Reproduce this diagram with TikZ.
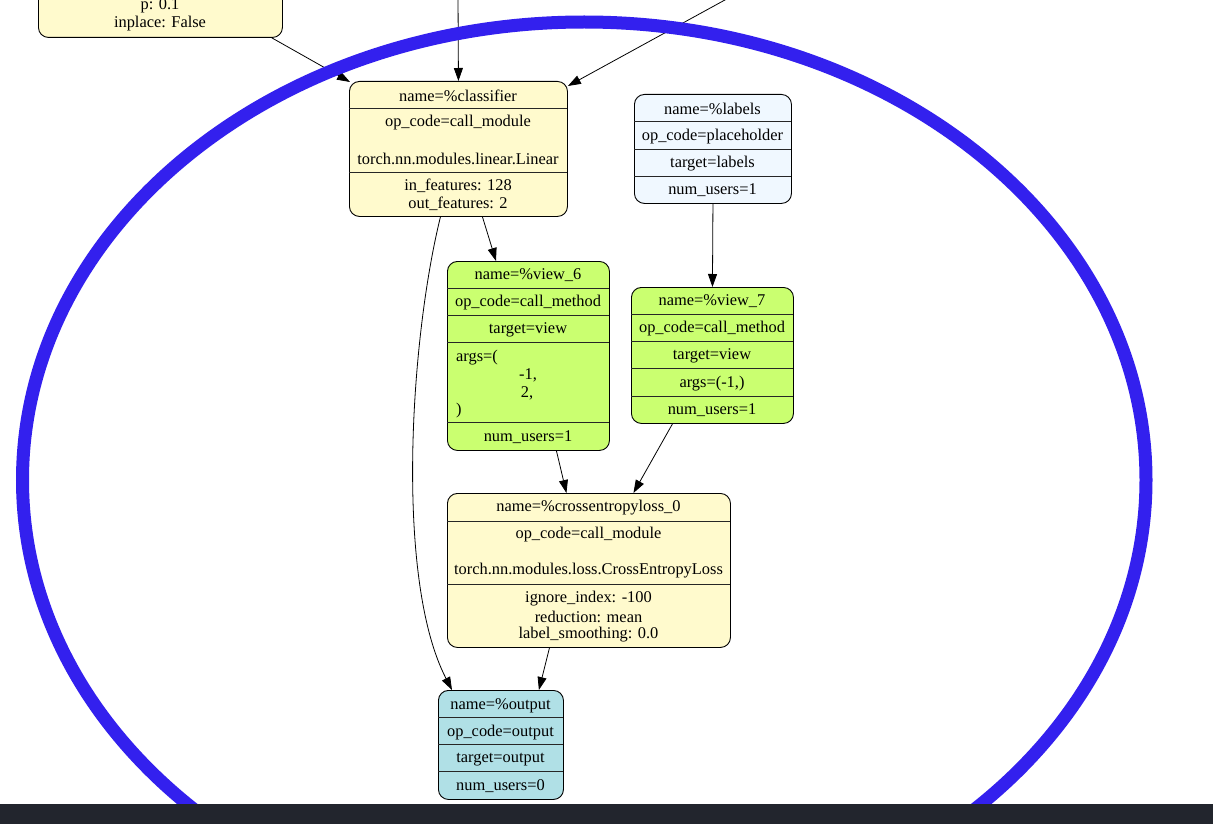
\documentclass[tikz,border=0pt]{standalone}
\usepackage{fontspec}
\setmainfont{Liberation Serif}
\usetikzlibrary{arrows.meta,calc}

\definecolor{lemon}{HTML}{FFFACD}
\definecolor{alice}{HTML}{F0F8FF}
\definecolor{olive1}{HTML}{CAFF70}
\definecolor{powder}{HTML}{B0E0E6}
\definecolor{ringblue}{RGB}{51,32,238}
\definecolor{barcol}{HTML}{22252D}

\tikzset{
  box/.style={draw=black, line width=0.9pt, rounded corners=10pt, inner sep=0pt, anchor=north west},
  sep/.style={draw=black!85, line width=0.9pt},
  txt/.style={font=\fontsize{16.4}{18}\selectfont, inner sep=0pt, anchor=center, yshift=-1.5pt},
  txtl/.style={txt, anchor=west},
  edge/.style={-{Triangle[length=13pt,width=9pt]}, line width=0.8pt},
  ring/.style={draw=ringblue, line width=13pt}
}

\begin{document}
\begin{tikzpicture}[x=1pt,y=-1pt]
\useasboundingbox (0,0) rectangle (1213,824);
\clip (0,0) rectangle (1213,824);
\fill[white] (0,0) rectangle (1213,824);

% --- dropout module (upper part off the page)
\node[box, fill=lemon, minimum width=244pt, minimum height=137pt] (drop) at (38,-100) {};
\node[txt] (drop-p) at (160,4) {p: 0.1};
\node[txt] (drop-inpl) at (160,22) {inplace: False};

% --- classifier
\node[box, fill=lemon, minimum width=218pt, minimum height=135pt] (cls) at (349,81) {};
\draw[sep] (349,108) -- (567,108);
\draw[sep] (349,172) -- (567,172);
\node[txt] (cls-name) at (458,94) {name=\%classifier};
\node[txt] (cls-op) at (458,121) {op\_code=call\_module};
\node[txt] (cls-tgt) at (458,157) {torch.nn.modules.linear.Linear};
\node[txt] (cls-in) at (458,184) {in\_features: 128};
\node[txt] (cls-out) at (458,202) {out\_features: 2};

% --- labels placeholder
\node[box, fill=alice, minimum width=157pt, minimum height=109pt] (lab) at (634,94) {};
\draw[sep] (634,121) -- (791,121);
\draw[sep] (634,149) -- (791,149);
\draw[sep] (634,176) -- (791,176);
\node[txt] (lab-name) at (712.5,107) {name=\%labels};
\node[txt] (lab-op) at (712.5,135) {op\_code=placeholder};
\node[txt] (lab-tgt) at (712.5,162) {target=labels};
\node[txt] (lab-users) at (712.5,189) {num\_users=1};

% --- view_6
\node[box, fill=olive1, minimum width=162pt, minimum height=189pt] (v6) at (447,261) {};
\draw[sep] (447,288) -- (609,288);
\draw[sep] (447,315) -- (609,315);
\draw[sep] (447,342) -- (609,342);
\draw[sep] (447,422) -- (609,422);
\node[txt] (v6-name) at (528,274) {name=\%view\_6};
\node[txt] (v6-op) at (528,301) {op\_code=call\_method};
\node[txt] (v6-tgt) at (528,328) {target=view};
\node[txtl] (v6-a0) at (456,356) {args=(};
\node[txt] (v6-a1) at (528,374) {-1,};
\node[txt] (v6-a2) at (527,392) {2,};
\node[txtl] (v6-a3) at (456,409) {)};
\node[txt] (v6-users) at (528,436) {num\_users=1};

% --- view_7
\node[box, fill=olive1, minimum width=162pt, minimum height=136pt] (v7) at (631,287) {};
\draw[sep] (631,314) -- (793,314);
\draw[sep] (631,341) -- (793,341);
\draw[sep] (631,368) -- (793,368);
\draw[sep] (631,396) -- (793,396);
\node[txt] (v7-name) at (712,300) {name=\%view\_7};
\node[txt] (v7-op) at (712,327) {op\_code=call\_method};
\node[txt] (v7-tgt) at (712,354) {target=view};
\node[txt] (v7-args) at (712,382) {args=(-1,)};
\node[txt] (v7-users) at (712,409) {num\_users=1};

% --- cross entropy loss
\node[box, fill=lemon, minimum width=283pt, minimum height=154pt] (ce) at (447,493) {};
\draw[sep] (447,521) -- (730,521);
\draw[sep] (447,584) -- (730,584);
\node[txt] (ce-name) at (588.5,506) {name=\%crossentropyloss\_0};
\node[txt] (ce-op) at (588.5,533) {op\_code=call\_module};
\node[txt] (ce-tgt) at (588.5,569) {torch.nn.modules.loss.CrossEntropyLoss};
\node[txt] (ce-ign) at (588.5,597) {ignore\_index: -100};
\node[txt] (ce-red) at (588.5,615) {reduction: mean};
\node[txt] (ce-ls) at (588.5,633) {label\_smoothing: 0.0};

% --- output
\node[box, fill=powder, minimum width=125pt, minimum height=109pt] (out) at (438,690) {};
\draw[sep] (438,717) -- (563,717);
\draw[sep] (438,744) -- (563,744);
\draw[sep] (438,771) -- (563,771);
\node[txt] (out-name) at (500.5,704) {name=\%output};
\node[txt] (out-op) at (500.5,731) {op\_code=output};
\node[txt] (out-tgt) at (500.5,758) {target=output};
\node[txt] (out-users) at (500.5,785) {num\_users=0};

% --- incoming edges from nodes above the page
\coordinate (inA) at (458,-5);
\coordinate (inB) at (734,-5);

% --- edges
\draw[edge] (inA) -- (cls.north);
\draw[edge] (inB) -- ($(cls.north east)+(0,5)$);
\draw[edge] ($(drop.south east)+(-11,0)$) -- ($(cls.north west)+(1,1)$);
\draw[edge] ($(cls.south)+(24,0)$) -- ($(v6.north west)+(49,0)$);
\draw[edge] ($(cls.south)+(-18,0)$) .. controls (410,340) and (395,580) .. ($(out.north west)+(14,0)$);
\draw[edge] (lab.south) -- (v7.north);
\draw[edge] ($(v6.south)+(28,0)$) -- ($(ce.north)+(-22.5,0)$);
\draw[edge] ($(v7.south)+(-40,0)$) -- ($(ce.north)+(44.5,0)$);
\draw[edge] ($(ce.south)+(-39.5,0)$) -- ($(out.north east)+(-25,0)$);

% --- blue ring over the graph
\draw[ring] (584.25,480) ellipse [x radius=561.75pt, y radius=458pt];

% --- dark strip along the bottom
\fill[barcol] (0,804) rectangle (1213,824);
\end{tikzpicture}
\end{document}
